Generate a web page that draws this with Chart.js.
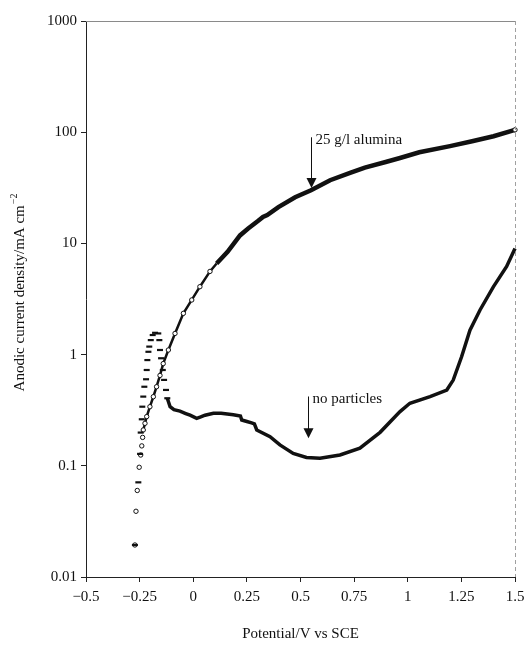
<!DOCTYPE html>
<html lang="en">
<head>
<meta charset="UTF-8">
<title>Anodic polarisation curves</title>
<script src="https://cdn.jsdelivr.net/npm/chart.js@4.4.1/dist/chart.umd.min.js"></script>
<style>
  html, body { margin: 0; padding: 0; background: #fff; }
</style>
</head>
<body>
<canvas id="graphe" width="525" height="649"></canvas>

<script>
    // 25 g/l alumina : potential (V vs SCE) / current density (mA cm-2)
    const aluminaV = [-0.272, -0.267, -0.261, -0.252, -0.245, -0.240, -0.236, -0.233, -0.225, -0.217,
                      -0.202, -0.186, -0.171, -0.155, -0.140, -0.116, -0.085, -0.046, -0.007, 0.031,
                      0.078, 0.109, 0.160, 0.218, 0.256, 0.300, 0.325, 0.345, 0.397, 0.475,
                      0.549, 0.638, 0.731, 0.800, 0.897, 0.964, 1.054, 1.197, 1.300, 1.400, 1.500];
    const aluminaI = [0.0194, 0.039, 0.060, 0.097, 0.125, 0.151, 0.18, 0.21, 0.241, 0.277,
                      0.34, 0.418, 0.514, 0.65, 0.83, 1.1, 1.55, 2.35, 3.1, 4.08,
                      5.6, 6.6, 8.4, 11.8, 13.6, 15.8, 17.3, 18.0, 21.2, 26,
                      30, 37, 43, 48, 54, 58.6, 66, 75, 83, 92, 105];

    // no particles
    const sansV = [-0.272, -0.256, -0.248, -0.245, -0.240, -0.2375, -0.233, -0.228, -0.220, -0.217,
                   -0.214, -0.209, -0.205, -0.198, -0.189, -0.178, -0.163, -0.158, -0.155, -0.150,
                   -0.142, -0.136, -0.127, -0.121, -0.108, -0.090, -0.062, -0.035, -0.015, 0.016,
                   0.035, 0.055, 0.094, 0.130, 0.187, 0.220, 0.226, 0.250, 0.272, 0.285,
                   0.296, 0.358, 0.404, 0.466, 0.528, 0.591, 0.684, 0.777, 0.871, 0.964,
                   1.010, 1.104, 1.182, 1.212, 1.251, 1.290, 1.337, 1.399, 1.461, 1.500];
    const sansI = [0.0194, 0.071, 0.128, 0.199, 0.262, 0.340, 0.419, 0.514, 0.600, 0.727,
                   0.893, 1.06, 1.18, 1.35, 1.50, 1.57, 1.55, 1.35, 1.10, 0.927,
                   0.727, 0.592, 0.481, 0.405, 0.340, 0.320, 0.310, 0.295, 0.285, 0.267,
                   0.275, 0.285, 0.297, 0.297, 0.288, 0.280, 0.258, 0.250, 0.243, 0.238,
                   0.210, 0.183, 0.154, 0.129, 0.119, 0.117, 0.125, 0.144, 0.200, 0.307,
                   0.365, 0.418, 0.480, 0.590, 0.957, 1.66, 2.52, 4.07, 6.2, 9.0];

    const xTicks = [-0.5, -0.25, 0, 0.25, 0.5, 0.75, 1, 1.25, 1.5];
    const yTicks = [0.01, 0.1, 1, 10, 100, 1000];

    // arrows with their labels
    const fleches = [
        { texte: '25 g/l alumina', x: 0.549, haut: 90, pointe: 31.5 },
        { texte: 'no particles', x: 0.536, haut: 0.42, pointe: 0.177 }
    ];

    const police = "'Liberation Serif', 'Times New Roman', serif";
    Chart.defaults.font.family = police;
    Chart.defaults.font.size = 15;
    Chart.defaults.color = '#111';

    let points = (xs, ys) => xs.map((x, i) => ({ x: x, y: ys[i] }));
    let moins = v => String(v).replace('-', '\u2212');

    // top and right frame, arrows, y title
    const decor = {
        id: 'decor',
        afterDatasetsDraw(chart) {
            const ctx = chart.ctx;
            const a = chart.chartArea;
            const sx = chart.scales.x, sy = chart.scales.y;

            ctx.save();
            ctx.strokeStyle = '#8a8a8a';
            ctx.lineWidth = 1;
            ctx.beginPath();
            ctx.moveTo(a.left, a.top + 0.5);
            ctx.lineTo(a.right, a.top + 0.5);
            ctx.stroke();
            ctx.setLineDash([4, 3]);
            ctx.strokeStyle = '#a0a0a0';
            ctx.beginPath();
            ctx.moveTo(a.right + 0.5, a.top);
            ctx.lineTo(a.right + 0.5, a.bottom);
            ctx.stroke();
            ctx.setLineDash([]);

            ctx.strokeStyle = '#111';
            ctx.fillStyle = '#111';
            ctx.font = '15px ' + police;
            ctx.textBaseline = 'middle';
            ctx.textAlign = 'left';
            fleches.forEach(f => {
                let px = Math.round(sx.getPixelForValue(f.x)) + 0.5;
                let top = sy.getPixelForValue(f.haut);
                let tip = sy.getPixelForValue(f.pointe);
                ctx.lineWidth = 1;
                ctx.beginPath();
                ctx.moveTo(px, top);
                ctx.lineTo(px, tip - 9);
                ctx.stroke();
                ctx.beginPath();
                ctx.moveTo(px - 5, tip - 10);
                ctx.lineTo(px + 5, tip - 10);
                ctx.lineTo(px, tip);
                ctx.closePath();
                ctx.fill();
                ctx.fillText(f.texte, px + 4, top + 3);
            });

            // y title with superscript
            const main = 'Anodic current density/mA cm';
            const sup = '\u22122';
            ctx.font = '15px ' + police;
            let w1 = ctx.measureText(main).width;
            ctx.font = '10px ' + police;
            let w2 = ctx.measureText(sup).width;
            ctx.translate(19, 293);
            ctx.rotate(-Math.PI / 2);
            ctx.textBaseline = 'alphabetic';
            let x0 = -(w1 + w2) / 2;
            ctx.font = '15px ' + police;
            ctx.fillText(main, x0, 5);
            ctx.font = '10px ' + police;
            ctx.fillText(sup, x0 + w1 + 1, -2);
            ctx.restore();
        }
    };

    function buildChart() {
        let content = document.querySelector('#graphe').getContext('2d');
        return new Chart(content, {
            type: 'scatter',
            data: {
                datasets: [{
                    label: '25 g/l alumina',
                    data: points(aluminaV, aluminaI),
                    showLine: true,
                    borderColor: '#111',
                    pointStyle: 'circle',
                    pointRadius: c => (c.raw && (c.raw.x < 0.1 || c.dataIndex === aluminaV.length - 1)) ? 2.2 : 0,
                    pointBorderWidth: 1,
                    pointBorderColor: '#111',
                    pointBackgroundColor: '#fff',
                    segment: {
                        borderColor: s => s.p1.parsed.x <= -0.233 ? 'transparent' : '#111',
                        borderWidth: s => s.p0.parsed.x < 0.1 ? 2.5 : 4.5
                    },
                    order: 2
                }, {
                    label: 'no particles',
                    data: points(sansV, sansI),
                    showLine: true,
                    borderColor: '#111',
                    borderWidth: 3.5,
                    pointStyle: 'line',
                    pointRadius: c => (c.raw && c.raw.x < -0.11) ? 3 : 0,
                    pointBorderWidth: 2.2,
                    pointBorderColor: '#111',
                    segment: {
                        borderColor: s => s.p1.parsed.x <= -0.11 ? 'transparent' : '#111'
                    },
                    order: 1
                }]
            },
            options: {
                responsive: false,
                animation: false,
                clip: false,
                layout: { padding: { top: 21, right: 10, bottom: 0, left: 0 } },
                plugins: {
                    legend: { display: false },
                    tooltip: { enabled: false }
                },
                scales: {
                    x: {
                        type: 'linear',
                        min: -0.5,
                        max: 1.5,
                        afterBuildTicks: s => { s.ticks = xTicks.map(v => ({ value: v })); },
                        afterFit: s => { s.height = 72; s.paddingRight = 0; s.paddingLeft = 0; },
                        ticks: {
                            padding: 6,
                            color: '#111',
                            callback: v => moins(v)
                        },
                        grid: { display: true, drawOnChartArea: false, tickLength: 5, color: '#222' },
                        border: { display: true, color: '#222', width: 1 },
                        title: {
                            display: true,
                            text: 'Potential/V vs SCE',
                            color: '#111',
                            font: { size: 15 },
                            padding: { top: 4, bottom: 6 }
                        }
                    },
                    y: {
                        type: 'logarithmic',
                        min: 0.01,
                        max: 1000,
                        afterBuildTicks: s => { s.ticks = yTicks.map(v => ({ value: v })); },
                        afterFit: s => { s.width = 86; },
                        ticks: {
                            padding: 4,
                            color: '#111',
                            callback: v => String(v)
                        },
                        grid: { display: true, drawOnChartArea: false, tickLength: 5, color: '#222' },
                        border: { display: true, color: '#222', width: 1 }
                    }
                }
            },
            plugins: [decor]
        });
    }

    buildChart();
</script>
</body>
</html>
